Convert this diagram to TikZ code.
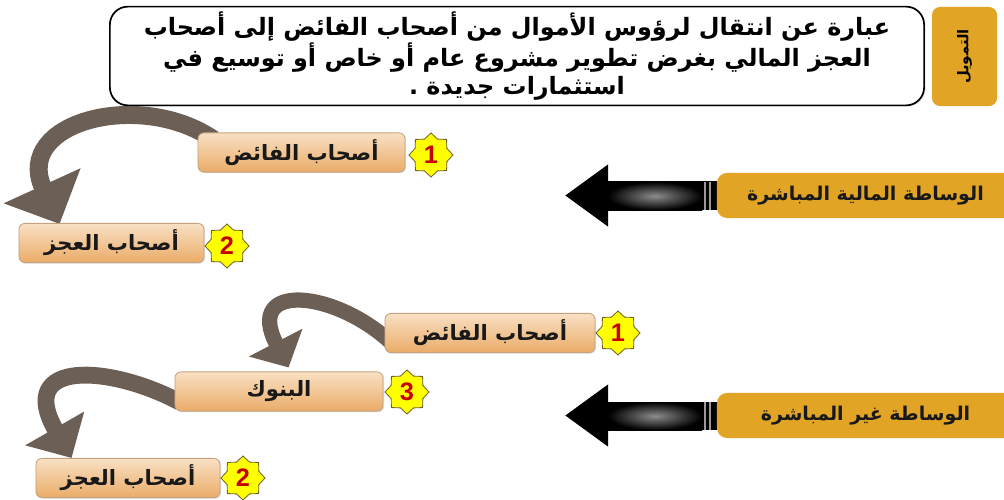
\documentclass[tikz,border=0pt]{standalone}
\usepackage{fontspec}
\setmainfont{DejaVu Sans}
\newfontfamily\arabicfont[Script=Arabic]{DejaVu Sans}
\newfontfamily\numfont{Liberation Sans}
\TeXXeTstate=1
\usetikzlibrary{shapes.geometric,arrows.meta,shadows,calc}
\definecolor{gold}{RGB}{226,164,36}
\definecolor{boxtop}{RGB}{249,224,196}
\definecolor{boxbot}{RGB}{234,172,104}
\definecolor{boxline}{RGB}{196,162,128}
\definecolor{brownarrow}{RGB}{108,95,85}
\definecolor{starfill}{RGB}{255,255,0}
\definecolor{starline}{RGB}{110,100,40}
\definecolor{numred}{RGB}{200,0,0}
\pgfdeclarelayer{bg}
\pgfsetlayers{bg,main}
\tikzset{
  orangebox/.style={rounded corners=0.15cm, top color=boxtop, bottom color=boxbot,
    draw=boxline, line width=0.6pt, minimum height=0.98cm, inner sep=0pt,
    font=\arabicfont\bfseries\fontsize{15}{17}\selectfont, text=black!90,
    drop shadow={opacity=0.25,shadow xshift=0.8pt,shadow yshift=-0.8pt}},
  starbadge/.style={star, star points=8, star point ratio=1.28, fill=starfill,
    draw=starline, line width=0.6pt, minimum size=1.1cm, inner sep=0pt,
    font=\numfont\bfseries\fontsize{18}{18}\selectfont, text=numred},
  goldbox/.style={fill=gold, rounded corners=0.25cm, minimum height=1.125cm,
    inner sep=0pt, font=\arabicfont\bfseries\fontsize{13.5}{15}\selectfont, text=black!90},
  curvearrow/.style 2 args={draw=brownarrow, line width=0.42cm,
    -{Triangle[length=#1,width=#2]}},
  blackarrow/.style={draw=black, line width=0.7cm,
    -{Triangle[length=1.075cm,width=1.475cm]}},
}
\begin{document}
\begin{tikzpicture}[x=0.025cm,y=-0.025cm]
\useasboundingbox (0,0) rectangle (1004,499);

% header
\node[draw=black, line width=1.2pt, rounded corners=0.45cm, fill=white,
  minimum width=20.35cm, minimum height=2.4cm, align=center,
  font=\arabicfont\bfseries\fontsize{17}{20.5}\selectfont,
  drop shadow={opacity=0.2,shadow xshift=1pt,shadow yshift=-1pt}] (tb) at (517,56)
  {\beginR عبارة عن انتقال لرؤوس الأموال من أصحاب الفائض إلى أصحاب\endR\\
   \beginR العجز المالي بغرض تطوير مشروع عام أو خاص أو توسيع في\endR\\
   \beginR استثمارات جديدة .\endR};
\node[fill=gold, rounded corners=0.2cm, rotate=90, minimum width=2.475cm,
  minimum height=1.625cm, inner sep=0pt,
  font=\arabicfont\bfseries\fontsize{10.5}{12}\selectfont] (tab) at (964.5,56.5)
  {\beginR التمويل\endR};

% direct intermediation
\node[orangebox, minimum width=5.175cm] (f1) at (301.5,152.5) {\beginR أصحاب الفائض\endR};
\node[starbadge] (s1) at (431,155) {1};
\node[orangebox, minimum width=4.625cm] (a1) at (111.5,243) {\beginR أصحاب العجز\endR};
\node[starbadge] (s2) at (227,246) {2};
\node[goldbox, minimum width=7.425cm] (ws1) at (865.5,195.5) {\beginR الوساطة المالية المباشرة\endR};
\coordinate (tip1) at (565,195.5);

% indirect intermediation
\node[orangebox, minimum width=5.25cm] (f2) at (490,333) {\beginR أصحاب الفائض\endR};
\node[starbadge] (s3) at (618,333) {1};
\node[orangebox, minimum width=5.2cm] (b2) at (279,391.5) {\beginR البنوك\endR};
\node[starbadge] (s4) at (407,392) {3};
\node[orangebox, minimum width=4.6cm] (a2) at (128,478) {\beginR أصحاب العجز\endR};
\node[starbadge] (s5) at (243,478) {2};
\node[goldbox, minimum width=7.425cm] (ws2) at (865.5,415.5) {\beginR الوساطة غير المباشرة\endR};
\coordinate (tip2) at (565,415.5);

\begin{pgfonlayer}{bg}
  % curved arrows
  \draw[curvearrow={1.05cm}{2.05cm}, line width=0.45cm]
    ($(f1.north west)+(16,7)$) .. controls (140,89) and (13,122) .. ($(a1.north west)+(41,1)$);
  \draw[curvearrow={0.7cm}{1.47cm}, line width=0.38cm]
    ($(f2.west)+(7,10)$) .. controls (335,290) and (243.8,281.2) .. ($(b2.north west)+(114,-4)$);
  \draw[curvearrow={0.85cm}{1.65cm}]
    ($(b2.west)+(5,10.5)$) .. controls (110,365) and (15,359) .. ($(a2.north west)+(36,0)$);
  % black arrows
  \draw[blackarrow] (ws1.west) -- (tip1);
  \shade[inner color=black!45, outer color=black] (608,182) rectangle (702,210);
  \draw[black!40, line width=0.8pt] (705,182) -- (705,210) (710,182) -- (710,210);
  \draw[blackarrow] (ws2.west) -- (tip2);
  \shade[inner color=black!45, outer color=black] (608,402) rectangle (702,430);
  \draw[black!40, line width=0.8pt] (705,402) -- (705,430) (710,402) -- (710,430);
\end{pgfonlayer}
\end{tikzpicture}
\end{document}
